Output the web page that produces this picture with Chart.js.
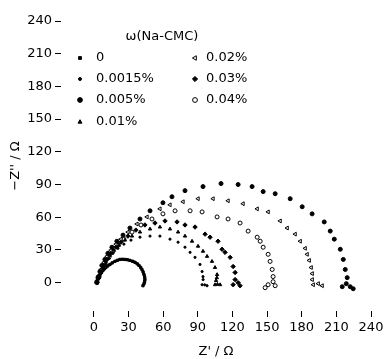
<!DOCTYPE html>
<html><head><meta charset="utf-8">
<script src="https://cdn.jsdelivr.net/npm/chart.js@4/dist/chart.umd.min.js"></script>
<style>html,body{margin:0;padding:0;background:#fff}#c{display:block}</style>
</head><body>
<canvas id="c" width="389" height="359"></canvas>
<script>
// ---- data ----
const seriesLabels = ['0', '0.0015%', '0.005%', '0.01%', '0.02%', '0.03%', '0.04%'];
const legendTitle = 'ω(Na-CMC)';
const xTickValues = [0, 30, 60, 90, 120, 150, 180, 210, 240];
const yTickValues = [0, 30, 60, 90, 120, 150, 180, 210, 240];
const xTitle = "Z' / Ω";
const yTitle = "−Z'' / Ω";

const re0 = [2.6,3.0,3.5,4.3,5.2,6.5,7.8,9.0,10.4,12.0,13.9,16.0,18.2,20.4,22.5,24.7,26.9,29.0,31.2,33.5,35.6,37.5,39.0,40.5,41.6,42.6,43.4,44.0,44.2,43.9,43.4,42.5];
const im0 = [0,1.8,3.7,5.6,7.4,9.3,11.1,12.6,13.9,15.3,16.7,18.2,19.5,20.5,21.3,21.5,21.3,21.0,20.4,19.6,18.6,17.3,15.8,14.0,12.1,9.8,7.4,5.0,2.8,0.9,-0.9,-2.8];

const re1 = [2.6,3.4,4.3,5.2,6.1,7.8,10.4,13.0,16.5,20.8,26.0,32.1,39.9,48.6,57.2,65.9,72.9,78.9,83.3,87.6,91.9,93.7,94.5,94.6,93.7,96.0,98.0];
const im1 = [0,1.8,3.7,6.0,8.3,13.0,17.6,22.3,26.9,31.5,35.3,39.0,41.7,42.7,42.7,39.9,37.1,32.5,27.8,23.2,16.7,10.2,5.5,2.8,-1.9,-2.0,-2.8];

const re2 = [2.6,3.5,5.2,6.9,9.5,12.1,15.6,19.9,25.2,31.2,39.9,48.6,59.8,67.6,78.9,94.5,110.1,124.9,137.0,146.6,157.0,170.0,180.4,189.0,199.5,204.7,208.2,213.4,216.0,217.7,219.4,218.6,215.1,222.0,224.6];
const im2 = [0.9,4.6,10.2,15.8,21.3,26.9,32.5,38.0,43.6,50.1,58.4,65.9,73.3,78.8,84.4,88.1,90.9,90.0,88.1,83.5,81.6,77.0,69.6,63.1,55.7,47.3,39.9,30.6,21.3,12.1,4.6,-0.9,-3.7,-3.7,-5.6];

const re3 = [2.6,4.3,6.1,7.8,10.4,13.9,17.3,21.7,26.9,33.0,39.9,48.6,57.2,65.9,72.9,78.9,85.0,90.2,94.5,98.0,102.3,104.9,106.7,106.5,105.8,104.9,107.0,109.3];
const im3 = [0,4.6,9.3,13.9,19.5,25.0,29.7,34.3,39.0,42.7,46.4,49.2,51.0,49.2,46.4,42.7,38.0,33.4,28.8,24.1,19.5,13.9,7.4,4.5,1.9,-1.9,-1.5,-1.9];

const re4 = [2.6,4.3,6.1,8.7,11.3,14.7,19.1,23.4,29.5,37.3,46.0,57.2,65.9,77.2,90.2,103.2,116.2,129.2,141.4,150.9,161.3,167.4,174.3,178.7,183.0,184.7,186.5,188.2,189.1,189.1,190.0,194.3,197.7];
const im4 = [0,6.5,12.1,18.6,24.1,29.7,35.3,39.9,46.4,53.8,60.3,67.7,71.4,74.2,77.0,77.0,75.1,72.4,67.7,64.9,56.6,50.1,44.5,38.0,31.5,26.0,20.4,13.9,8.3,2.8,-1.9,-0.9,-2.8];

const re5 = [2.6,4.3,6.1,8.7,11.3,14.7,19.1,23.4,29.5,36.4,44.2,52.9,61.6,72.0,78.9,87.6,96.3,100.6,107.5,111.0,113.6,118.0,120.6,122.3,122.3,120.6,124.9,126.6];
const im5 = [0,4.6,10.2,15.8,21.3,26.9,32.5,37.1,42.7,48.2,52.9,54.7,56.6,55.7,52.9,51.0,44.5,41.7,38.0,30.6,27.8,23.2,14.8,9.3,2.8,-1.9,0,-2.8];

const re6 = [2.6,4.3,6.9,9.5,13.0,16.5,20.8,26.0,33.0,40.8,50.3,59.8,70.3,83.3,93.7,106.7,116.2,126.6,133.6,141.4,144.0,146.6,150.9,152.6,154.4,155.2,155.2,150.9,148.3,157.0];
const im6 = [0,5.6,11.1,16.7,23.2,28.8,34.3,39.9,46.4,52.9,58.4,63.1,65.9,65.9,64.9,60.3,58.4,54.7,47.3,41.7,38.0,32.5,26.0,19.5,12.1,5.6,0.9,-1.9,-4.6,-2.8];

const reAll = [re0, re1, re2, re3, re4, re5, re6];
const imAll = [im0, im1, im2, im3, im4, im5, im6];

// ---- styles ----
const FONT = 'DejaVu Sans';
const markerStyles = [
  {pointStyle: 'rect', radius: 1.6, rotation: 0, fill: '#000', showLine: true, lineWidth: 2.5},
  {pointStyle: 'circle', radius: 1.1, rotation: 0, fill: '#000'},
  {pointStyle: 'circle', radius: 2.0, rotation: 0, fill: '#000'},
  {pointStyle: 'triangle', radius: 1.9, rotation: 0, fill: '#000'},
  {pointStyle: 'triangle', radius: 2.2, rotation: -90, fill: '#fff'},
  {pointStyle: 'rectRot', radius: 2.2, rotation: 0, fill: '#000'},
  {pointStyle: 'circle', radius: 2.0, rotation: 0, fill: '#fff'}
];

const datasets = seriesLabels.map((lab, i) => {
  const m = markerStyles[i];
  return {
    label: lab,
    data: reAll[i].map((x, k) => ({x: x, y: imAll[i][k]})),
    showLine: !!m.showLine,
    borderColor: '#000',
    borderWidth: m.lineWidth || 1,
    backgroundColor: m.fill,
    pointStyle: m.pointStyle,
    pointRotation: m.rotation,
    pointRadius: m.radius,
    pointBorderWidth: 1,
    pointBorderColor: '#000',
    pointBackgroundColor: m.fill,
    tension: 0.3
  };
});

const legendPlugin = {
  id: 'insideLegend',
  afterDraw(chart) {
    const ctx = chart.ctx;
    ctx.save();
    ctx.fillStyle = '#000';
    ctx.font = '13px "' + FONT + '"';
    ctx.textBaseline = 'middle';
    ctx.textAlign = 'center';
    ctx.fillText(legendTitle, 162, 37);
    ctx.textAlign = 'left';
    const rowsY = [58, 79, 100, 122];
    seriesLabels.forEach((lab, i) => {
      const col = i < 4 ? 0 : 1;
      const row = i < 4 ? i : i - 4;
      const mx = col === 0 ? 80 : 195;
      const tx = col === 0 ? 96 : 206;
      const y = rowsY[row];
      const m = markerStyles[i];
      ctx.fillStyle = m.fill;
      ctx.strokeStyle = '#000';
      ctx.lineWidth = 1;
      Chart.helpers.drawPoint(ctx, {pointStyle: m.pointStyle, rotation: m.rotation, radius: m.radius + 0.4, borderWidth: 1}, mx, y);
      ctx.fillStyle = '#000';
      ctx.fillText(lab, tx, y);
    });
    ctx.restore();
  }
};

const tickFont = {family: FONT, size: 13};

new Chart(document.getElementById('c'), {
  type: 'scatter',
  data: {datasets},
  options: {
    responsive: false,
    animation: false,
    events: [],
    layout: {padding: {top: 21, right: 18, bottom: 0, left: 0}},
    plugins: {legend: {display: false}, tooltip: {enabled: false}},
    scales: {
      x: {
        type: 'linear', min: -28.5, max: 240,
        afterBuildTicks: (s) => { s.ticks = xTickValues.map(v => ({value: v})); },
        afterFit: (s) => { s.height = 48; },
        grid: {display: true, drawOnChartArea: false, drawTicks: true, tickLength: 6, color: '#000'},
        border: {display: false},
        ticks: {color: '#000', font: tickFont, padding: 3, maxRotation: 0, autoSkip: false},
        title: {display: true, text: xTitle, color: '#000', font: tickFont, padding: {top: 0, bottom: 0}}
      },
      y: {
        type: 'linear', min: -26, max: 240,
        afterBuildTicks: (s) => { s.ticks = yTickValues.map(v => ({value: v})); },
        afterFit: (s) => { s.width = 61; },
        grid: {display: true, drawOnChartArea: false, drawTicks: true, tickLength: 6, color: '#000'},
        border: {display: false},
        ticks: {color: '#000', font: tickFont, padding: 3, autoSkip: false},
        title: {display: true, text: yTitle, color: '#000', font: tickFont, padding: {top: 8, bottom: 0}}
      }
    }
  },
  plugins: [legendPlugin]
});
</script>
</body></html>
